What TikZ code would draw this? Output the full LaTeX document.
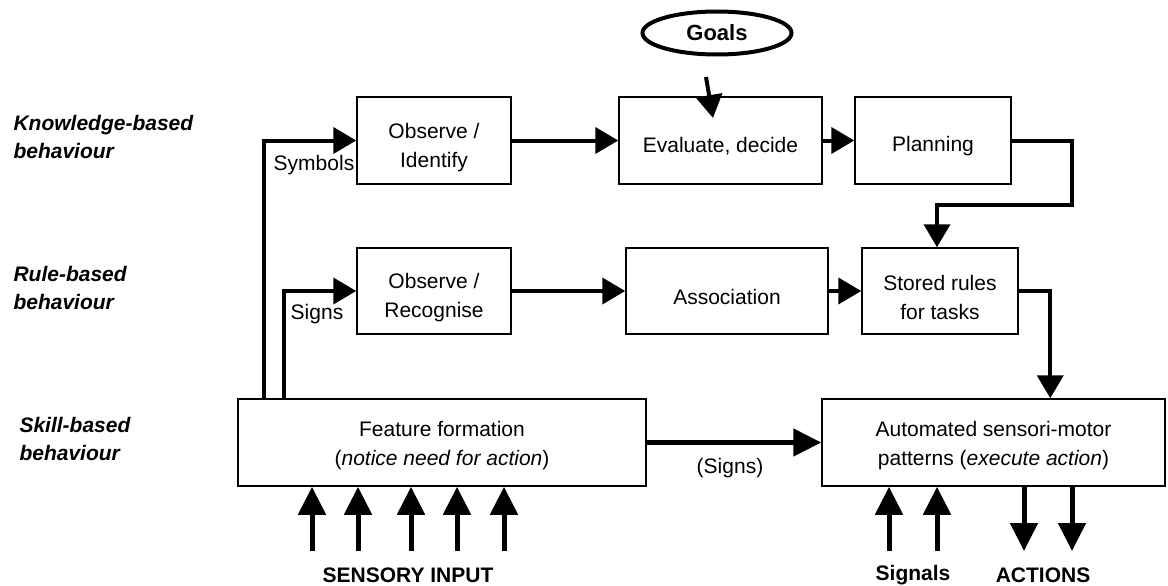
\documentclass[tikz,border=0pt]{standalone}
\usepackage{fontspec}
\setmainfont{Liberation Sans}
\usetikzlibrary{arrows.meta,shapes.geometric,calc}
\begin{document}
\begin{tikzpicture}[x=1pt,y=-1pt,
  font=\fontsize{21}{29}\selectfont,
  box/.style={draw,line width=1.5pt,rectangle,inner sep=0pt},
  txt/.style={align=center,inner sep=0pt},
  conn/.style={line width=4pt,-{Triangle[length=23pt,width=26pt]}},
  bigconn/.style={line width=5pt,-{Triangle[length=28pt,width=27pt]}},
  side/.style={anchor=west,align=left,font=\fontsize{21}{28}\selectfont\bfseries\itshape},
  bot/.style={font=\fontsize{21}{28}\selectfont\bfseries},
  lbl/.style={inner sep=0pt}]
\useasboundingbox (0,0) rectangle (1168,586);
% side labels
\node[side] (kb) at (10,137) {Knowledge-based\\behaviour};
\node[side] (rb) at (10,288) {Rule-based\\behaviour};
\node[side] (sb) at (16,439) {Skill-based\\behaviour};
% goals
\node[draw,ellipse,line width=4pt,minimum width=149pt,minimum height=43pt,inner sep=0pt,font=\fontsize{22}{26}\selectfont\bfseries] (goals) at (717,33) {Goals};
% boxes
\node[box,minimum width=154pt,minimum height=87pt] (oi) at (434,140.5) {};
\node[box,minimum width=203pt,minimum height=87pt] (ev) at (720.5,140.5) {};
\node[box,minimum width=156pt,minimum height=87pt] (pl) at (933,140.5) {};
\node[box,minimum width=154pt,minimum height=86pt] (or) at (434,291) {};
\node[box,minimum width=202pt,minimum height=86pt] (as) at (727,291) {};
\node[box,minimum width=156pt,minimum height=86pt] (st) at (940,291) {};
\node[box,minimum width=408pt,minimum height=87pt] (ff) at (442,442.5) {};
\node[box,minimum width=343pt,minimum height=87pt] (au) at (993.5,442.5) {};
% box texts
\node[txt] (toi) at ([yshift=-7pt]oi.center) {Observe /\\Identify};
\node[txt] (tev) at ([yshift=-6pt]ev.center) {Evaluate, decide};
\node[txt] (tpl) at ([yshift=-6pt]pl.center) {Planning};
\node[txt] (tor) at ([yshift=-7pt]or.center) {Observe /\\Recognise};
\node[txt] (tas) at ([yshift=-6pt]as.center) {Association};
\node[txt] (tst) at ([yshift=-6pt]st.center) {Stored rules\\for tasks};
\node[txt] (tff) at ([yshift=-3pt]ff.center) {Feature formation\\(\textit{notice need for action})};
\node[txt] (tau) at ([yshift=-3pt]au.center) {Automated sensori-motor\\patterns (\textit{execute action})};
% connectors
\coordinate (g1) at (706,77);
\coordinate (g2) at (713,118);
\draw[conn] (g1) -- (g2);
\draw[conn] ([xshift=27pt]ff.north west) |- (oi.west);
\draw[conn] ([xshift=47pt]ff.north west) |- (or.west);
\draw[conn] (oi.east) -- (ev.west);
\draw[conn] (ev.east) -- (pl.west);
\draw[conn] (or.east) -- (as.west);
\draw[conn] (as.east) -- (st.west);
\coordinate (pc) at (1072,205);
\draw[conn] (pl.east) -| (pc) -| ([xshift=-3pt]st.north);
\draw[conn] (st.east) -| ([xshift=229pt]au.north west);
\draw[bigconn] (ff.east) -- (au.west);
\foreach \x [count=\i] in {312,358,411,457,504}{
  \coordinate (s\i) at (\x,551);
  \draw[bigconn] (s\i) -- (s\i |- ff.south);
}
\foreach \x [count=\i] in {889,937}{
  \coordinate (sg\i) at (\x,551);
  \draw[bigconn] (sg\i) -- (sg\i |- au.south);
}
\foreach \x [count=\i] in {1024,1072}{
  \coordinate (ac\i) at (\x,551);
  \draw[bigconn] (ac\i |- au.south) -- (ac\i);
}
% labels
\node[lbl] (sym) at (314,165) {Symbols};
\node[lbl] (sig) at (317,314) {Signs};
\node[lbl] (sg) at (730,468) {(Signs)};
\node[bot] (si) at (408,575) {SENSORY INPUT};
\node[bot] (sl) at (913,575) {Signals};
\node[bot] (ac) at (1043,575) {ACTIONS};
\end{tikzpicture}
\end{document}
